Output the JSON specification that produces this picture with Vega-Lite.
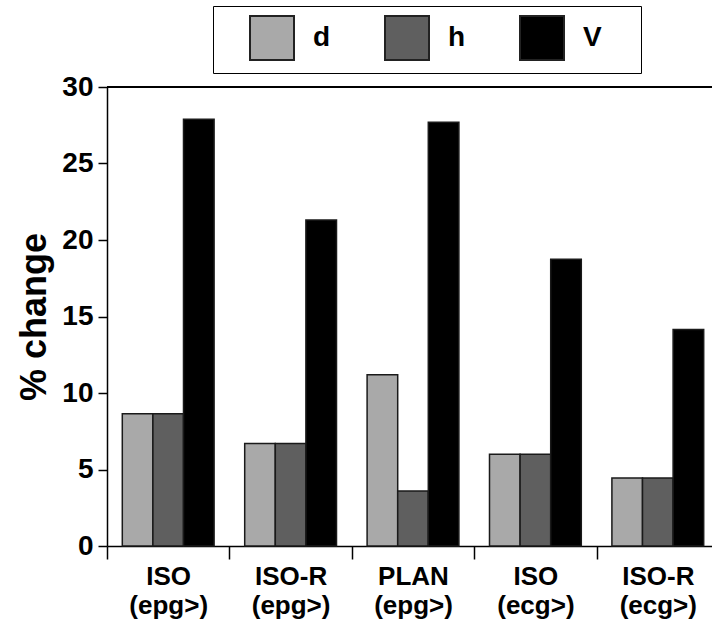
{
  "$schema": "https://vega.github.io/schema/vega-lite/v6.json",
  "width": 612,
  "height": 459,
  "autosize": {"type": "none"},
  "padding": {"left": 107, "top": 87, "right": 0, "bottom": 84},
  "config": {
    "view": {"stroke": null},
    "font": "Liberation Sans",
    "axis": {"labelColor": "#000", "titleColor": "#000", "domainColor": "#000", "tickColor": "#000", "domainWidth": 1.5, "tickWidth": 1.5, "grid": false}
  },
  "data": {
    "values": [
      {"group": "ISO|(epg>)", "measure": "d", "value": 8.65},
      {"group": "ISO|(epg>)", "measure": "h", "value": 8.65},
      {"group": "ISO|(epg>)", "measure": "V", "value": 27.9},
      {"group": "ISO-R|(epg>)", "measure": "d", "value": 6.7},
      {"group": "ISO-R|(epg>)", "measure": "h", "value": 6.7},
      {"group": "ISO-R|(epg>)", "measure": "V", "value": 21.3},
      {"group": "PLAN|(epg>)", "measure": "d", "value": 11.2},
      {"group": "PLAN|(epg>)", "measure": "h", "value": 3.6},
      {"group": "PLAN|(epg>)", "measure": "V", "value": 27.7},
      {"group": "ISO|(ecg>)", "measure": "d", "value": 6.0},
      {"group": "ISO|(ecg>)", "measure": "h", "value": 6.0},
      {"group": "ISO|(ecg>)", "measure": "V", "value": 18.75},
      {"group": "ISO-R|(ecg>)", "measure": "d", "value": 4.45},
      {"group": "ISO-R|(ecg>)", "measure": "h", "value": 4.45},
      {"group": "ISO-R|(ecg>)", "measure": "V", "value": 14.15}
    ]
  },
  "layer": [
    {
      "mark": {"type": "bar", "stroke": "#1a1a1a", "strokeWidth": 1.5},
      "encoding": {
        "x": {
          "field": "group", "type": "nominal", "sort": null,
          "scale": {"paddingInner": 0, "paddingOuter": 0},
          "axis": {
            "title": null, "labelAngle": 0,
            "labelExpr": "split(datum.label, '|')",
            "labelFontSize": 26, "labelFontWeight": "bold", "labelLineHeight": 29,
            "tickBand": "extent", "tickSize": 13, "labelPadding": 4
          }
        },
        "xOffset": {
          "field": "measure", "type": "nominal", "sort": ["d", "h", "V"],
          "scale": {"paddingInner": 0, "paddingOuter": 0.5}
        },
        "y": {
          "field": "value", "type": "quantitative",
          "scale": {"domain": [0, 30], "nice": false},
          "axis": {
            "values": [0, 5, 10, 15, 20, 25, 30],
            "title": "% change", "titleFontSize": 36, "titleFontWeight": "bold", "titlePadding": 8,
            "labelFontSize": 28, "labelFontWeight": "bold", "tickSize": 9, "labelPadding": 5
          }
        },
        "color": {
          "field": "measure", "type": "nominal", "sort": ["d", "h", "V"],
          "scale": {"domain": ["d", "h", "V"], "range": ["#a9a9a9", "#5f5f5f", "#000000"]},
          "legend": {
            "orient": "none", "legendX": 106, "legendY": -81, "direction": "horizontal",
            "title": " ", "titleOrient": "right", "titlePadding": 30, "titleFontSize": 20,
            "symbolType": "square", "symbolSize": 1936,
            "symbolStrokeColor": "#222", "symbolStrokeWidth": 2, "symbolOpacity": 1,
            "labelFontSize": 28, "labelFontWeight": "bold", "labelColor": "#000",
            "labelOffset": 18, "columnPadding": 26, "symbolOffset": 27, "padding": 9,
            "strokeColor": "#000"
          }
        }
      }
    },
    {
      "mark": {"type": "rule", "color": "#000", "strokeWidth": 1.5},
      "encoding": {"y": {"datum": 30, "type": "quantitative"}}
    }
  ]
}
